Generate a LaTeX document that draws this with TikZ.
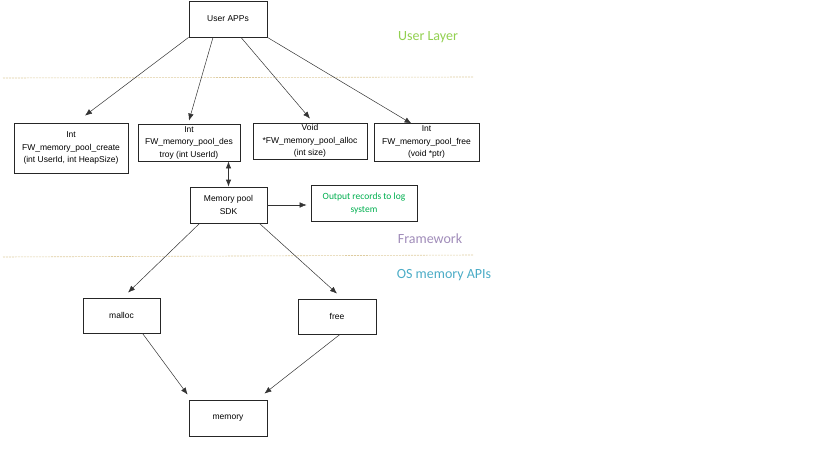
\documentclass[tikz,border=0pt]{standalone}
\usepackage{fontspec}
\setmainfont{Liberation Sans}
\newfontfamily\labelfont{Carlito}
\usetikzlibrary{
    positioning,
    arrows.meta
    }

\definecolor{userlayer}{RGB}{146,208,80}
\definecolor{framework}{RGB}{160,140,185}
\definecolor{osapis}{RGB}{75,172,198}
\definecolor{logtext}{RGB}{0,176,80}
\definecolor{layerline}{RGB}{222,204,160}

\begin{document}
\begin{tikzpicture}[x=1pt, y=-1pt]
\tikzset{block/.style =
        {
            rectangle,
            draw=black!85,
            line width=0.8pt,
            fill=white,
            inner sep=0pt,
            align=center,
            font=\fontsize{8.5}{12.5}\selectfont
        }
}

\tikzset{layer label/.style =
        {
            inner sep=0pt,
            font=\labelfont\fontsize{14}{16}\selectfont
        }
}

\tikzset{layer line/.style =
        {
            line width=0.6pt,
            layerline,
            dash pattern=on 2pt off 1pt
        }
}

\tikzset{link/.style = {
            line width=0.5pt,
            draw=black!80,
            -{Latex[length=7pt,width=5.5pt]}
        }
}

\tikzset{both link/.style = {
            link,
            line width=0.8pt,
            {Latex[length=7pt,width=5.5pt]}-{Latex[length=7pt,width=5.5pt]}
        }
}
		\useasboundingbox (0,0) rectangle (819,460);

		% layer borders
		\foreach \ya / \yb in {78/77, 257/255}
		\draw[layer line] (3,\ya) -- (473,\yb);

		\node[layer label, text=userlayer] (user-label) at (428,37) {User Layer};
		\node[layer label, text=framework] (fw-label) at (430,239) {Framework};
		\node[layer label, text=osapis] (os-label) at (444,275) {OS memory APIs};

		\node[block, minimum width=78pt, minimum height=36pt] (apps) at (228,19) {User APPs};

		\node[block, minimum width=114pt, minimum height=50pt] (create) at (71,148)
			{Int\\FW\_memory\_pool\_create\\(int UserId, int HeapSize)};
		\node[block, minimum width=102pt, minimum height=37pt] (destroy) at (189,142.5)
			{Int\\FW\_memory\_pool\_des\\troy (int UserId)};
		\node[block, minimum width=114pt, minimum height=36pt] (alloc) at (310,141)
			{Void\\*FW\_memory\_pool\_alloc\\(int size)};
		\node[block, minimum width=105pt, minimum height=38pt] (release) at (426.5,142)
			{Int\\FW\_memory\_pool\_free\\(void *ptr)};

		\node[block, minimum width=77pt, minimum height=36pt] (sdk) at (228.5,205) {Memory pool\\SDK};
		\node[block, minimum width=106pt, minimum height=36pt, text=logtext,
			font=\labelfont\fontsize{9.5}{13}\selectfont] (log) at (364,203)
			{Output records to log\\system};

		\node[block, minimum width=77pt, minimum height=35pt] (malloc) at (121.5,315.5) {malloc};
		\node[block, minimum width=78pt, minimum height=35pt] (free) at (337,316.5) {free};

		\node[block, minimum width=78pt, minimum height=36pt] (memory) at (228,418) {memory};

		% user layer calls
		\draw[link] (apps.south west) -- ([xshift=14pt, yshift=7pt]create.north);
		\draw[link] ([xshift=-15pt]apps.south) -- ([yshift=3pt]destroy.north);
		\draw[link] ([xshift=13pt]apps.south) -- ([yshift=4pt]alloc.north);
		\draw[link] (apps.south east) -- ([xshift=-15pt, yshift=-1pt]release.north);

		\draw[both link] (sdk.north) -- (sdk.north |- destroy.south);
		\draw[link] (sdk.east) -- ([xshift=-4pt]sdk.east -| log.west);

		% os layer
		\draw[link] ([xshift=10pt]sdk.south west) -- ([xshift=6.5pt, yshift=5pt]malloc.north);
		\draw[link] ([xshift=-8pt]sdk.south east) -- ([yshift=5pt]free.north);
		\draw[link] ([xshift=21pt]malloc.south) -- ([xshift=-1pt, yshift=5pt]memory.north west);
		\draw[link] ([xshift=3pt]free.south) -- ([xshift=-3pt, yshift=6pt]memory.north east);

	\end{tikzpicture}
\end{document}
